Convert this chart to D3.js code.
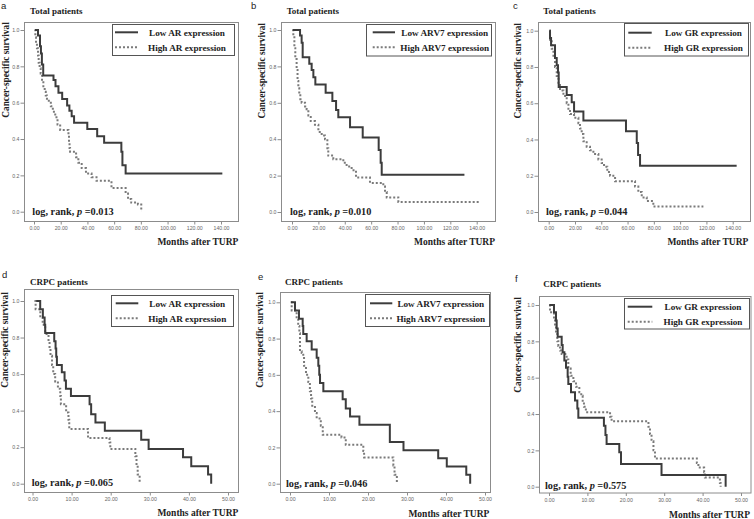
<!DOCTYPE html>
<html><head><meta charset="utf-8">
<script src="https://cdn.jsdelivr.net/npm/d3@7"></script>
<style>body{margin:0;background:#fff}svg{display:block}</style>
</head><body>
<svg id="chart" width="754" height="519"></svg>
<script>
// ---------- tick labels ----------
const yTicks = [0, 0.2, 0.4, 0.6, 0.8, 1.0];
const xTicksTotal = [0, 20, 40, 60, 80, 100, 120, 140];
const xTicksCRPC = [0, 10, 20, 30, 40, 50];

// ---------- survival curves: [months, survival] ----------
const aLow = [[0.7,1.0],[3.0,0.97],[4.5,0.91],[5.2,0.87],[5.9,0.81],[6.9,0.75],[14.6,0.725],[16.1,0.69],[18.3,0.655],[21.1,0.62],[24.8,0.585],[26.5,0.555],[28.2,0.525],[30.0,0.49],[39.9,0.455],[47.3,0.415],[52.5,0.38],[65.4,0.33],[66.2,0.255],[68.6,0.21],[141,0.21]];
const aHigh = [[0.5,1.0],[1.0,0.96],[1.5,0.93],[2.2,0.9],[3.0,0.86],[3.5,0.82],[4.2,0.79],[5.0,0.76],[6.0,0.72],[7.0,0.69],[8.0,0.66],[8.8,0.64],[9.7,0.61],[12.6,0.58],[14.1,0.55],[15.9,0.52],[17.6,0.48],[19.6,0.45],[25.8,0.42],[26.2,0.38],[26.6,0.35],[27.0,0.33],[31.5,0.30],[33.2,0.27],[35.7,0.24],[38.9,0.21],[43.1,0.19],[46.8,0.17],[58.0,0.13],[68.6,0.10],[70.4,0.07],[72.8,0.05],[77.8,0.04],[80.3,0.005],[80.8,0.005]];
const bLow = [[0.5,1.0],[6.1,0.97],[7.3,0.93],[8.1,0.85],[13.1,0.815],[14.9,0.78],[16.2,0.74],[17.7,0.70],[25.5,0.655],[30.6,0.61],[33.4,0.56],[35.1,0.52],[44.0,0.465],[53.6,0.41],[65.7,0.34],[67.2,0.27],[68.0,0.205],[130.7,0.205]];
const bHigh = [[0.5,1.0],[1.0,0.96],[1.8,0.9],[2.5,0.84],[3.5,0.78],[4.2,0.72],[4.8,0.68],[5.5,0.65],[6.3,0.62],[7.3,0.6],[9.9,0.58],[11.1,0.565],[12.4,0.53],[14.2,0.5],[17.4,0.48],[20.0,0.44],[22.5,0.42],[25.0,0.40],[26.8,0.35],[27.5,0.31],[31.3,0.29],[38.9,0.27],[41.4,0.25],[45.2,0.23],[48.5,0.19],[59.1,0.16],[69.2,0.14],[70.5,0.11],[71.8,0.08],[80.6,0.055],[142.5,0.055]];
const cLow = [[0.5,1.0],[1.0,0.96],[1.8,0.92],[4.8,0.85],[6.1,0.81],[7.1,0.77],[7.6,0.69],[13.7,0.645],[17.5,0.605],[19.3,0.555],[26.4,0.505],[58.8,0.445],[67.0,0.38],[68.0,0.315],[69.5,0.255],[143,0.255]];
const cHigh = [[0.5,1.0],[1.0,0.95],[2.3,0.9],[3.6,0.85],[4.8,0.8],[6.1,0.75],[7.4,0.7],[8.6,0.67],[11.2,0.64],[13.7,0.6],[15.0,0.57],[16.2,0.54],[19.3,0.52],[22.6,0.49],[23.8,0.46],[25.1,0.43],[26.4,0.39],[28.9,0.36],[31.4,0.34],[34.0,0.32],[37.8,0.29],[40.3,0.27],[42.1,0.25],[44.6,0.22],[46.7,0.2],[50.5,0.17],[65.7,0.14],[68.2,0.11],[70.8,0.08],[74.6,0.06],[79.6,0.03],[117.7,0.03]];
const dLow = [[0.94,1.0],[1.97,0.955],[2.65,0.91],[3.1,0.87],[3.25,0.825],[5.56,0.78],[5.9,0.74],[6.07,0.695],[6.24,0.65],[7.5,0.61],[8.2,0.565],[8.55,0.52],[9.83,0.48],[14.6,0.435],[15.0,0.38],[16.1,0.335],[18.5,0.29],[27.8,0.24],[29.7,0.19],[38.5,0.145],[40.6,0.095],[44.9,0.05],[45.7,0.0]];
const dHigh = [[0.5,1.0],[0.8,0.955],[2.0,0.91],[2.6,0.87],[3.25,0.82],[4.1,0.78],[4.36,0.74],[4.6,0.70],[5.0,0.65],[5.3,0.6],[5.8,0.56],[6.5,0.52],[7.1,0.48],[7.26,0.435],[8.6,0.39],[9.2,0.35],[9.4,0.30],[14.2,0.25],[19.7,0.225],[19.9,0.19],[26.3,0.15],[26.6,0.10],[26.9,0.05],[27.4,0.0]];
const eLow = [[0.26,1.0],[1.28,0.955],[2.3,0.91],[3.25,0.87],[3.4,0.825],[4.27,0.785],[5.56,0.74],[6.84,0.695],[7.26,0.65],[7.5,0.6],[7.7,0.555],[8.55,0.51],[13.5,0.465],[14.3,0.415],[15.4,0.37],[17.8,0.325],[25.6,0.23],[29.1,0.185],[38.0,0.14],[40.2,0.095],[45.2,0.05],[46.2,0.0]];
const eHigh = [[0.17,1.0],[0.43,0.955],[1.7,0.91],[2.1,0.87],[2.4,0.83],[2.56,0.73],[3.0,0.72],[3.4,0.7],[3.6,0.65],[4.1,0.6],[4.7,0.56],[5.1,0.51],[5.4,0.47],[5.7,0.43],[6.4,0.39],[6.84,0.36],[7.9,0.32],[8.4,0.27],[13.2,0.255],[14.3,0.215],[18.8,0.18],[19.0,0.145],[26.5,0.1],[26.8,0.05],[27.4,0.0]];
const fLow = [[0.09,1.0],[1.3,0.96],[1.82,0.915],[2.0,0.87],[2.26,0.825],[3.3,0.78],[3.56,0.74],[4.0,0.695],[4.43,0.655],[4.86,0.605],[5.03,0.565],[5.73,0.52],[6.77,0.475],[7.38,0.43],[7.64,0.38],[14.3,0.335],[14.7,0.285],[15.0,0.235],[18.3,0.19],[18.75,0.125],[29.3,0.065],[46.0,0.065],[46.0,0.0]];
const fHigh = [[0.1,1.0],[0.26,0.96],[1.3,0.92],[1.56,0.88],[1.82,0.84],[2.17,0.80],[2.43,0.775],[2.86,0.75],[3.3,0.73],[4.6,0.70],[5.03,0.65],[5.64,0.61],[6.34,0.58],[7.03,0.55],[7.9,0.52],[8.4,0.5],[8.77,0.465],[9.1,0.44],[9.6,0.41],[15.9,0.385],[16.3,0.36],[25.9,0.33],[26.3,0.29],[26.7,0.25],[27.2,0.2],[27.6,0.155],[38.5,0.13],[38.9,0.105],[40.4,0.08],[40.6,0.05],[44.5,0.02],[44.7,0.0]];

// ---------- panel text ----------
const panelLetters = ['a','b','c','d','e','f'];
const panelTitles = ['Total patients','Total patients','Total patients','CRPC patients','CRPC patients','CRPC patients'];
const markers = ['AR','ARV7','GR','AR','ARV7','GR'];
const pValues = ['0.013','0.010','0.044','0.065','0.046','0.575'];
const xMaxes = [140,140,140,50,50,50];

const panels = [
  {low:aLow, high:aHigh, xTicks:xTicksTotal},
  {low:bLow, high:bHigh, xTicks:xTicksTotal},
  {low:cLow, high:cHigh, xTicks:xTicksTotal},
  {low:dLow, high:dHigh, xTicks:xTicksCRPC},
  {low:eLow, high:eHigh, xTicks:xTicksCRPC},
  {low:fLow, high:fHigh, xTicks:xTicksCRPC}
];

// ---------- layout (pixel geometry) ----------
const layouts = [
  {bx0:24.5,by0:22.5,bx1:238.5,by1:221.5,x0:34,x1:221,y0:211.7,y1:30,
   lg:[112.5,24.5,234.5,55.5],ls:[115,138],lt:187,lr:[32.3,47.3],
   tt:[30,14],lt2:[1,9],yt:[8.5,70],xt:[238.3,245],pt:[32.3,214.5]},
  {bx0:281.5,by0:22.5,bx1:495.5,by1:221.5,x0:292,x1:476.7,y0:212,y1:30,
   lg:[366.5,24.5,491.5,56],ls:[372.7,395],lt:444.7,lr:[32.3,47.3],
   tt:[286.7,14],lt2:[251,9],yt:[264.5,70.8],xt:[495,245],pt:[290,214.5]},
  {bx0:538.5,by0:22.5,bx1:750.5,by1:221.5,x0:548.7,x1:732.7,y0:212,y1:30.7,
   lg:[624.5,23.5,748.5,56],ls:[628.3,651.7],lt:703.5,lr:[32.7,47.7],
   tt:[543.3,14],lt2:[513,9],yt:[521,70.8],xt:[748.3,245],pt:[546,214.5]},
  {bx0:24.5,by0:289.5,bx1:238.5,by1:492.5,x0:32.5,x1:228,y0:483.7,y1:301,
   lg:[111.5,295.5,233.5,326.5],ls:[115.7,138.3],lt:187.3,lr:[303.3,318.3],
   tt:[30,284.5],lt2:[2,278],yt:[8,340],xt:[238.3,516],pt:[31.7,486]},
  {bx0:280.5,by0:292.5,bx1:490.5,by1:492.5,x0:290,x1:485,y0:483.7,y1:302.3,
   lg:[365.5,294.5,489.5,326.5],ls:[370,392.3],lt:440.8,lr:[303.3,318.3],
   tt:[285,284.5],lt2:[258,280],yt:[263,340],xt:[489.3,516.5],pt:[286,486.5]},
  {bx0:539.5,by0:296.5,bx1:751,by1:493,x0:549,x1:741,y0:486.7,y1:305,
   lg:[624.5,298.5,749.5,329],ls:[627.7,652.3],lt:703,lr:[306.7,321.7],
   tt:[543.3,287],lt2:[515,281.7],yt:[520.5,345],xt:[750,517.5],pt:[545,488.5]}
];

const SERIF = '"Liberation Serif","Times New Roman",serif';
const SANS = '"Liberation Sans",Arial,sans-serif';
const solidColor = '#3c3c3c';
const dotColor = '#7a7a7a';

const svg = d3.select('#chart');

panels.forEach((p, i) => {
  const L = layouts[i];
  const g = svg.append('g');
  const x = d3.scaleLinear().domain([0, xMaxes[i]]).range([L.x0, L.x1]);
  const y = d3.scaleLinear().domain([0, 1]).range([L.y0, L.y1]);

  // frame
  g.append('rect').attr('x', L.bx0).attr('y', L.by0)
    .attr('width', L.bx1 - L.bx0).attr('height', L.by1 - L.by0)
    .attr('fill', 'none').attr('stroke', '#8c8c8c').attr('stroke-width', 1);

  // axes
  const ya = g.append('g').attr('transform', `translate(${L.bx0},0)`)
    .call(d3.axisLeft(y).tickValues(yTicks).tickFormat(d3.format('.1f')).tickSize(4).tickPadding(1));
  const xa = g.append('g').attr('transform', `translate(0,${L.by1})`)
    .call(d3.axisBottom(x).tickValues(p.xTicks).tickFormat(d3.format('.2f')).tickSize(3).tickPadding(2));
  [ya, xa].forEach(a => {
    a.select('.domain').remove();
    a.selectAll('line').attr('stroke', '#8c8c8c');
    a.selectAll('text').attr('fill', '#666').attr('font-family', SANS).attr('font-size', 5.2);
  });

  // curves
  const line = d3.line().x(d => x(d[0])).y(d => y(d[1])).curve(d3.curveStepAfter);
  g.append('path').datum(p.high).attr('d', line).attr('fill', 'none')
    .attr('stroke', dotColor).attr('stroke-width', 2).attr('stroke-dasharray', '2,2');
  g.append('path').datum(p.low).attr('d', line).attr('fill', 'none')
    .attr('stroke', solidColor).attr('stroke-width', 2);

  // legend
  const [lx0, ly0, lx1, ly1] = L.lg;
  g.append('rect').attr('x', lx0).attr('y', ly0).attr('width', lx1 - lx0).attr('height', ly1 - ly0)
    .attr('fill', '#fff').attr('stroke', '#555').attr('stroke-width', 1);
  const labels = [`Low ${markers[i]} expression`, `High ${markers[i]} expression`];
  labels.forEach((lab, k) => {
    const ry = L.lr[k];
    g.append('line').attr('x1', L.ls[0]).attr('x2', L.ls[1]).attr('y1', ry).attr('y2', ry)
      .attr('stroke', k === 0 ? solidColor : dotColor).attr('stroke-width', 2)
      .attr('stroke-dasharray', k === 0 ? null : '2,2');
    g.append('text').attr('x', L.lt).attr('y', ry + 3.2).attr('text-anchor', 'middle')
      .attr('font-family', SERIF).attr('font-weight', 'bold').attr('font-size', 9.2)
      .attr('fill', '#222').text(lab);
  });

  // panel letter
  g.append('text').attr('x', L.lt2[0]).attr('y', L.lt2[1]).attr('font-family', SANS)
    .attr('font-size', 9.5).attr('fill', '#222').text(panelLetters[i]);
  // title
  g.append('text').attr('x', L.tt[0]).attr('y', L.tt[1]).attr('font-family', SERIF)
    .attr('font-weight', 'bold').attr('font-size', 9).attr('fill', '#222').text(panelTitles[i]);
  // y title
  g.append('text').attr('transform', `translate(${L.yt[0]},${L.yt[1]}) rotate(-90)`)
    .attr('text-anchor', 'middle').attr('font-family', SERIF).attr('font-weight', 'bold')
    .attr('font-size', 9.3).attr('fill', '#222').text('Cancer-specific survival');
  // x title
  g.append('text').attr('x', L.xt[0]).attr('y', L.xt[1]).attr('text-anchor', 'end')
    .attr('font-family', SERIF).attr('font-weight', 'bold').attr('font-size', 9.5)
    .attr('fill', '#222').text('Months after TURP');
  // p value
  const pt = g.append('text').attr('x', L.pt[0]).attr('y', L.pt[1]).attr('font-family', SERIF)
    .attr('font-weight', 'bold').attr('font-size', 10.3).attr('fill', '#222');
  pt.append('tspan').text('log, rank, ');
  pt.append('tspan').attr('font-style', 'italic').text('p');
  pt.append('tspan').text(' =' + pValues[i]);
});
</script>
</body></html>
